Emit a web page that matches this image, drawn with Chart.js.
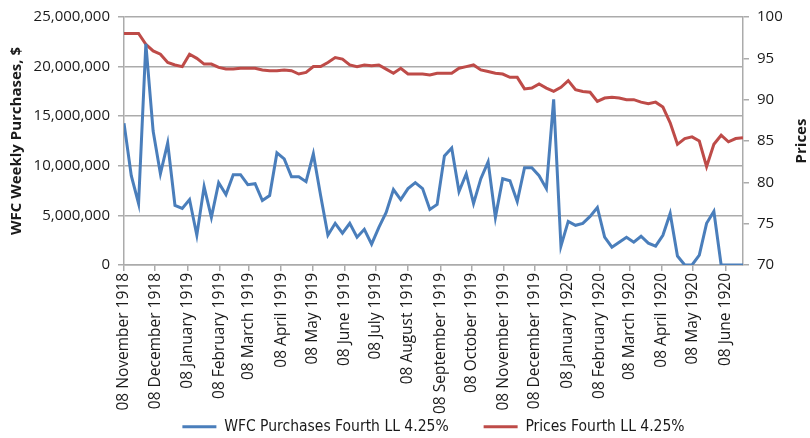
<!DOCTYPE html>
<html>
<head>
<meta charset="utf-8">
<script src="https://cdn.jsdelivr.net/npm/chart.js@4.4.0/dist/chart.umd.min.js"></script>
<style>
  html, body { margin: 0; padding: 0; background: #fff; }
  #wrap { width: 810px; height: 438px; }
</style>
</head>
<body>
<div id="wrap"><canvas id="chart"></canvas></div>
<script>
// weekly observations, first week ending 08 November 1918
const startDate = [1918, 10, 8];
const seriesNames = ['WFC Purchases Fourth LL 4.25%', 'Prices Fourth LL 4.25%'];

// WFC weekly purchases, $ (left axis)
const purchases = [
  14300000, 9000000, 6200000, 22300000, 13500000, 9200000, 12300000, 6000000, 5700000, 6600000,
  3000000, 7900000, 4800000, 8300000, 7100000, 9100000, 9100000, 8100000, 8200000, 6500000,
  7000000, 11300000, 10700000, 8900000, 8900000, 8400000, 11200000, 7000000, 3000000, 4200000,
  3200000, 4200000, 2800000, 3600000, 2100000, 3800000, 5300000, 7600000, 6600000, 7700000,
  8300000, 7700000, 5600000, 6100000, 11000000, 11800000, 7400000, 9200000, 6200000, 8700000,
  10400000, 4800000, 8700000, 8500000, 6400000, 9800000, 9800000, 9000000, 7700000, 16700000,
  1900000, 4400000, 4000000, 4200000, 4900000, 5800000, 2800000, 1800000, 2300000, 2800000,
  2300000, 2900000, 2200000, 1900000, 3000000, 5200000, 900000, 0, 0, 1000000,
  4200000, 5400000, 0, 0, 0, 0
];

// Prices (right axis)
const prices = [
  98.0, 98.0, 98.0, 96.7, 95.9, 95.5, 94.5, 94.2, 94.0, 95.5,
  95.0, 94.3, 94.3, 93.9, 93.7, 93.7, 93.8, 93.8, 93.8, 93.6,
  93.5, 93.5, 93.6, 93.5, 93.1, 93.3, 94.0, 94.0, 94.5, 95.1,
  94.9, 94.2, 94.0, 94.2, 94.1, 94.2, 93.7, 93.2, 93.8, 93.1,
  93.1, 93.1, 93.0, 93.2, 93.2, 93.2, 93.8, 94.0, 94.2, 93.6,
  93.4, 93.2, 93.1, 92.7, 92.7, 91.3, 91.4, 91.9, 91.4, 91.0,
  91.5, 92.3, 91.2, 91.0, 90.9, 89.8, 90.2, 90.3, 90.2, 90.0,
  90.0, 89.7, 89.5, 89.7, 89.1, 87.2, 84.6, 85.3, 85.5, 85.0,
  81.9, 84.6, 85.7, 84.9, 85.3, 85.4
];

const tickLabels = [
  '08 November 1918', '08 December 1918', '08 January 1919', '08 February 1919',
  '08 March 1919', '08 April 1919', '08 May 1919', '08 June 1919', '08 July 1919',
  '08 August 1919', '08 September 1919', '08 October 1919', '08 November 1919',
  '08 December 1919', '08 January 1920', '08 February 1920', '08 March 1920',
  '08 April 1920', '08 May 1920', '08 June 1920'
];

const monthNames = ['January', 'February', 'March', 'April', 'May', 'June', 'July',
  'August', 'September', 'October', 'November', 'December'];

const DAY = 86400000;
const t0 = Date.UTC(startDate[0], startDate[1], startDate[2]);
const dayOf = (label) => {
  const [d, m, y] = label.split(' ');
  return Math.round((Date.UTC(+y, monthNames.indexOf(m), +d) - t0) / DAY);
};
const tickDays = tickLabels.map(dayOf);
const labelByDay = {};
tickDays.forEach((d, i) => { labelByDay[d] = tickLabels[i]; });

const weekDay = (i) => i * 7;
const blueData = purchases.map((v, i) => ({ x: weekDay(i), y: v }));
const redData = prices.map((v, i) => ({ x: weekDay(i), y: v }));

const gridColor = '#ababab';
const textColor = '#1a1a1a';
const tickFont = { family: '"Open Sans", sans-serif', size: 15 };

// right axis title reads bottom-to-top like the left one
const rightTitle = {
  id: 'rightTitle',
  afterLayout(chart) {
    // let the long rotated date labels run past the (short) x-axis box
    chart.scales.x.bottom = chart.height;
  },
  afterDraw(chart) {
    const s = chart.scales.y1;
    const ctx = chart.ctx;
    ctx.save();
    ctx.translate(s.right - 8, (s.top + s.bottom) / 2);
    ctx.rotate(-Math.PI / 2);
    ctx.font = 'bold 15px "Open Sans", sans-serif';
    ctx.fillStyle = textColor;
    ctx.textAlign = 'center';
    ctx.textBaseline = 'middle';
    ctx.fillText('Prices', 0, 0);
    ctx.restore();
  }
};

new Chart(document.getElementById('chart'), {
  type: 'line',
  data: {
    datasets: [
      {
        label: seriesNames[0],
        data: blueData,
        yAxisID: 'y',
        borderColor: '#4a7ebb',
        backgroundColor: '#4a7ebb',
        borderWidth: 3,
        pointRadius: 0,
        pointStyle: 'line',
        tension: 0,
      },
      {
        label: seriesNames[1],
        data: redData,
        yAxisID: 'y1',
        borderColor: '#be4b48',
        backgroundColor: '#be4b48',
        borderWidth: 3,
        pointRadius: 0,
        pointStyle: 'line',
        tension: 0,
      },
    ],
  },
  options: {
    responsive: true,
    maintainAspectRatio: false,
    devicePixelRatio: 1,
    animation: false,
    layout: { padding: { top: 15, left: 0, right: 0, bottom: 0 } },
    plugins: {
      legend: {
        position: 'bottom',
        fullSize: false,
        maxHeight: 54,
        labels: {
          color: textColor,
          font: { family: '"Liberation Sans Narrow", "DejaVu Sans Condensed", sans-serif', size: 15.5 },
          usePointStyle: true,
          pointStyleWidth: 34,
          boxHeight: 6,
          padding: 35,
        },
      },
      tooltip: { enabled: false },
    },
    scales: {
      x: {
        type: 'linear',
        min: 0,
        max: weekDay(purchases.length - 1),
        afterBuildTicks: (scale) => {
          scale.ticks = tickDays.map((v) => ({ value: v }));
        },
        afterFit: (scale) => { scale.height = 119; },
        ticks: {
          autoSkip: false,
          minRotation: 90,
          maxRotation: 90,
          padding: 2,
          color: textColor,
          font: { family: '"Open Sans", sans-serif', size: 15.5 },
          callback: (v) => labelByDay[v] || '',
        },
        grid: { drawOnChartArea: false, drawTicks: true, tickLength: 6, color: gridColor, lineWidth: 1.5 },
        border: { display: true, color: gridColor, width: 1.5 },
      },
      y: {
        position: 'left',
        min: 0,
        max: 25000000,
        afterFit: (scale) => { scale.width = 124; },
        ticks: {
          stepSize: 5000000,
          padding: 8,
          color: textColor,
          font: tickFont,
          callback: (v) => v.toLocaleString('en-US'),
        },
        grid: { color: gridColor, lineWidth: 1.5, tickLength: 6 },
        border: { display: true, color: gridColor, width: 1.5 },
        title: {
          display: true,
          text: 'WFC Weekly Purchases, $',
          color: textColor,
          font: { family: '"Open Sans", sans-serif', size: 15, weight: 'bold' },
          padding: { top: 8, bottom: 0 },
        },
      },
      y1: {
        position: 'right',
        min: 70,
        max: 100,
        afterFit: (scale) => { scale.width = 67; },
        ticks: {
          stepSize: 5,
          padding: 8,
          color: textColor,
          font: tickFont,
        },
        grid: { drawOnChartArea: false, drawTicks: true, tickLength: 6, color: gridColor, lineWidth: 1.5 },
        border: { display: true, color: gridColor, width: 1.5 },
      },
    },
  },
  plugins: [rightTitle],
});
</script>
</body>
</html>
